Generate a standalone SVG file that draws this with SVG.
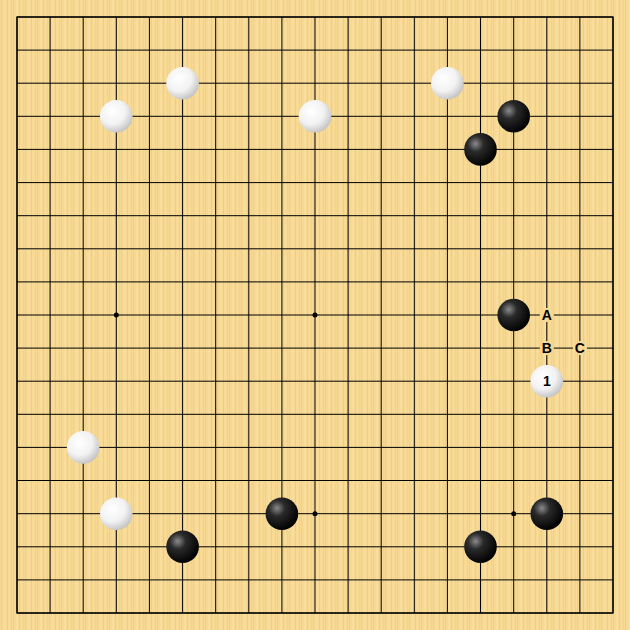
<svg xmlns="http://www.w3.org/2000/svg" width="630" height="630" viewBox="0 0 630 630">
<style>
.grid{stroke:#000;stroke-width:1;fill:none}
.star{fill:#000}
.b{fill:url(#gb)}
.w{fill:url(#gw)}
.lbl{font-family:"Liberation Sans",Arial,sans-serif;font-weight:bold;font-size:14px;fill:#000;text-anchor:middle}
.patch{fill:url(#wood)}
</style>
<defs>
<pattern id="wood" patternUnits="userSpaceOnUse" x="0" y="0" width="12" height="630">
<rect width="12" height="630" fill="#F7D994"/>
<rect x="1" width="1" height="630" fill="#F2CF87"/>
<rect x="4" width="2" height="630" fill="#F9DD9D"/>
<rect x="7" width="1" height="630" fill="#F1CD83"/>
<rect x="9" width="1" height="630" fill="#F9DC9A"/>
<rect x="11" width="1" height="630" fill="#F4D28A"/>
</pattern>
<radialGradient id="gb" cx="0.35" cy="0.33" r="0.7">
<stop offset="0" stop-color="#8a8a8a"/>
<stop offset="0.35" stop-color="#2a2a2a"/>
<stop offset="1" stop-color="#000"/>
</radialGradient>
<radialGradient id="gw" cx="0.38" cy="0.35" r="0.72">
<stop offset="0" stop-color="#ffffff"/>
<stop offset="0.55" stop-color="#f2f2f2"/>
<stop offset="1" stop-color="#bdbdbd"/>
</radialGradient>
</defs>
<rect id="board" width="630" height="630" fill="url(#wood)"/>
<g transform="translate(0.5,0.5)">
<g id="grid" class="grid">
<path d="M16.5 16.5H612.5M16.5 49.6H612.5M16.5 82.7H612.5M16.5 115.8H612.5M16.5 148.9H612.5M16.5 182.1H612.5M16.5 215.2H612.5M16.5 248.3H612.5M16.5 281.4H612.5M16.5 314.5H612.5M16.5 347.6H612.5M16.5 380.7H612.5M16.5 413.8H612.5M16.5 446.9H612.5M16.5 480H612.5M16.5 513.2H612.5M16.5 546.3H612.5M16.5 579.4H612.5M16.5 612.5H612.5"/>
<path d="M16.5 16.5V612.5M49.6 16.5V612.5M82.7 16.5V612.5M115.8 16.5V612.5M148.9 16.5V612.5M182.1 16.5V612.5M215.2 16.5V612.5M248.3 16.5V612.5M281.4 16.5V612.5M314.5 16.5V612.5M347.6 16.5V612.5M380.7 16.5V612.5M413.8 16.5V612.5M446.9 16.5V612.5M480 16.5V612.5M513.2 16.5V612.5M546.3 16.5V612.5M579.4 16.5V612.5M612.5 16.5V612.5"/>
<rect x="16.5" y="16.5" width="596" height="596" stroke-width="1.3"/>
</g>
<g id="stars" class="star">
<circle cx="115.8" cy="314.5" r="2.5"/>
<circle cx="314.5" cy="314.5" r="2.5"/>
<circle cx="314.5" cy="513.2" r="2.5"/>
<circle cx="513.2" cy="513.2" r="2.5"/>
</g>
<g id="white-stones">
<circle id="w-f3" class="w" cx="182.1" cy="82.7" r="16.3"/>
<circle id="w-d4" class="w" cx="115.8" cy="115.8" r="16.3"/>
<circle id="w-k4" class="w" cx="314.5" cy="115.8" r="16.3"/>
<circle id="w-o3" class="w" cx="446.9" cy="82.7" r="16.3"/>
<circle id="w-c14" class="w" cx="82.7" cy="446.9" r="16.3"/>
<circle id="w-d16" class="w" cx="115.8" cy="513.2" r="16.3"/>
</g>
<g id="black-stones">
<circle id="b-p4" class="b" cx="513.2" cy="115.8" r="16.3"/>
<circle id="b-o5" class="b" cx="480" cy="148.9" r="16.3"/>
<circle id="b-p10" class="b" cx="513.2" cy="314.5" r="16.3"/>
<circle id="b-j16" class="b" cx="281.4" cy="513.2" r="16.3"/>
<circle id="b-f17" class="b" cx="182.1" cy="546.3" r="16.3"/>
<circle id="b-o17" class="b" cx="480" cy="546.3" r="16.3"/>
<circle id="b-q16" class="b" cx="546.3" cy="513.2" r="16.3"/>
</g>
<g id="move1">
<circle class="w" cx="546.3" cy="380.7" r="16.3"/>
<text class="lbl" x="546.3" y="385.5" font-size="12">1</text>
</g>
<g id="label-A">
<rect class="patch" x="539.3" y="307.5" width="14" height="14"/>
<text class="lbl" x="546.3" y="319.5">A</text>
</g>
<g id="label-B">
<rect class="patch" x="539.3" y="340.6" width="14" height="14"/>
<text class="lbl" x="546.3" y="352.6">B</text>
</g>
<g id="label-C">
<rect class="patch" x="572.4" y="340.6" width="14" height="14"/>
<text class="lbl" x="579.4" y="352.6">C</text>
</g>
</g>
</svg>
